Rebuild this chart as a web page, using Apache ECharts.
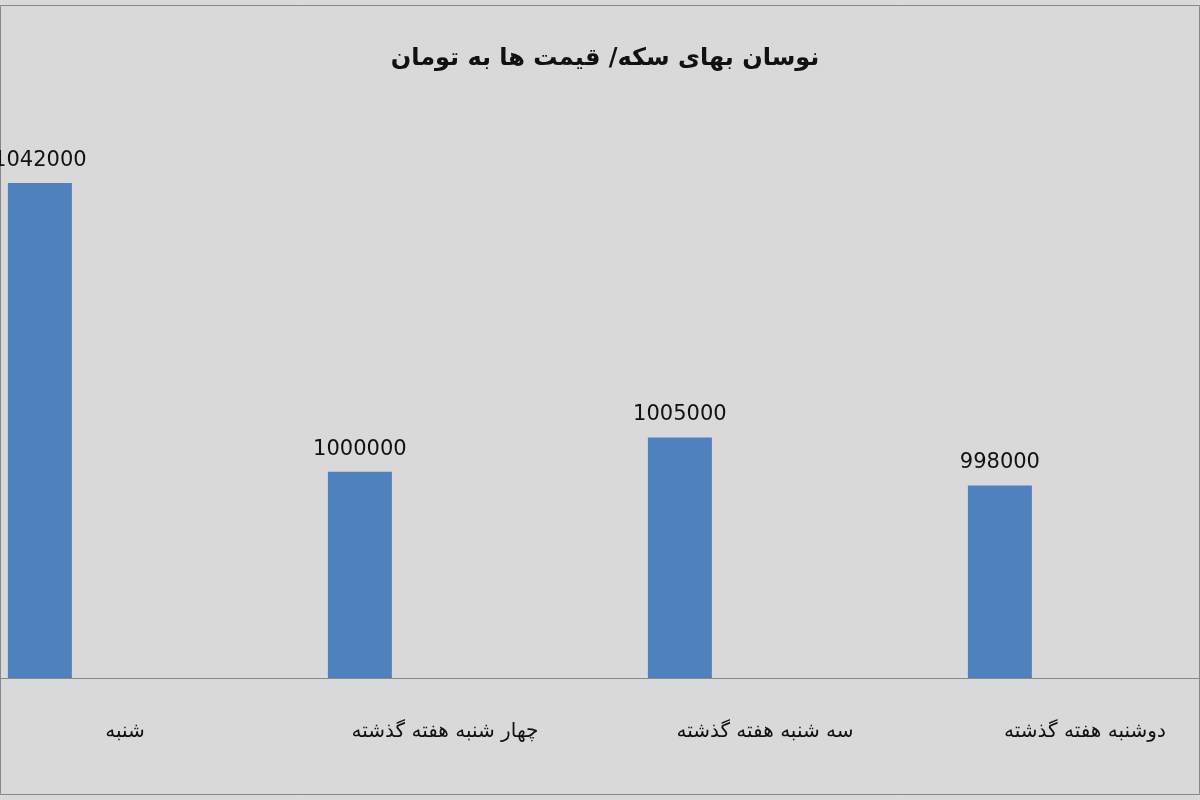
<!DOCTYPE html>
<html><head><meta charset="utf-8">
<script src="https://cdn.jsdelivr.net/npm/echarts@6/dist/echarts.min.js"></script>
<style>html,body{margin:0;padding:0;background:#d9d9d9;overflow:hidden;width:1200px;height:800px}#c{position:absolute;left:-35px;top:0;width:1280px;height:800px}</style>
</head><body><div id="c"></div>
<script>
const categories = ['شنبه','چهار شنبه هفته گذشته','سه شنبه هفته گذشته','دوشنبه هفته گذشته'];
const prices = [1042000,1000000,1005000,998000];
const titleText = 'نوسان بهای سکه/ قیمت ها به تومان';
const chart = echarts.init(document.getElementById('c'));
chart.setOption({
  backgroundColor:'#d9d9d9',
  animation:false,
  title:{text:titleText,left:635,top:42,textAlign:'center',
    textStyle:{fontFamily:'DejaVu Sans',fontSize:24,fontWeight:'bold',color:'#111'}},
  graphic:[{type:'rect',shape:{x:35.5,y:5.5,width:1199,height:789},style:{fill:'none',stroke:'#888',lineWidth:1}}],
  grid:{left:0,right:0,top:128,bottom:122,containLabel:false},
  xAxis:{type:'category',data:categories,
    axisLine:{lineStyle:{color:'#888',width:1}},axisTick:{show:false},
    axisLabel:{margin:44,fontFamily:'DejaVu Sans',fontSize:20,color:'#111',interval:0}},
  yAxis:{type:'value',min:970000,max:1050000,show:false,splitLine:{show:false}},
  series:[
    {type:'bar',data:prices,barWidth:64,barGap:'166%',itemStyle:{color:'#4f81bd'},
     label:{show:true,position:'top',distance:12,fontFamily:'DejaVu Sans',fontSize:21,color:'#111'}},
    {type:'bar',data:[null,null,null,null],barWidth:64}
  ]
});
</script></body></html>
